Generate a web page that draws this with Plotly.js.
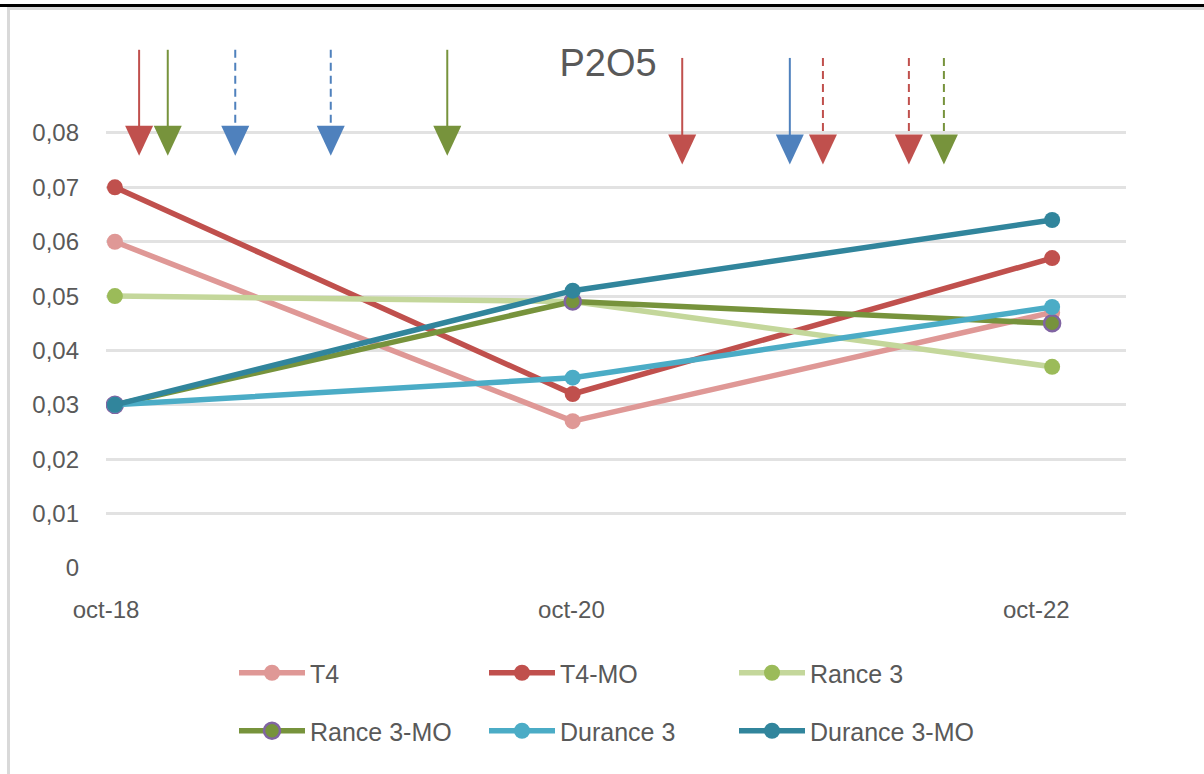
<!DOCTYPE html>
<html>
<head>
<meta charset="utf-8">
<script src="https://cdn.plot.ly/plotly-3.0.1.min.js"></script>
<style>
  html, body { margin: 0; padding: 0; background: #ffffff; }
  #wrap { position: relative; width: 1204px; height: 774px; overflow: hidden; }
  #chart { position: absolute; left: 0; top: 0; width: 1204px; height: 774px; }
  #topbar { position: absolute; left: 0; top: 4px; width: 1204px; height: 3px; background: #000000; pointer-events: none; }
  #frame { position: absolute; left: 7px; top: 7px; width: 1210px; height: 765px;
           border-left: 3px solid #D9D9D9; border-top: 3px solid #D9D9D9; border-bottom: 2px solid #D9D9D9;
           pointer-events: none; }
</style>
</head>
<body>
<div id="wrap">
  <div id="chart"></div>
  <div id="frame"></div>
  <div id="topbar"></div>
</div>
<script>
// Sampling dates and P2O5 contents per plot
const sampleDates = ['2018-10-15', '2020-10-03', '2022-10-26'];
const t4         = [0.060, 0.027, 0.047];
const t4MO       = [0.070, 0.032, 0.057];
const rance3     = [0.050, 0.049, 0.037];
const rance3MO   = [0.030, 0.049, 0.045];
const durance3   = [0.030, 0.035, 0.048];
const durance3MO = [0.030, 0.051, 0.064];
const seriesNames = ['T4', 'T4-MO', 'Rance 3', 'Rance 3-MO', 'Durance 3', 'Durance 3-MO'];

// Axis ticks
const xTickDates  = ['2018-10-01', '2020-10-01', '2022-10-01'];
const xTickLabels = ['oct-18', 'oct-20', 'oct-22'];
const yTickValues = [0, 0.01, 0.02, 0.03, 0.04, 0.05, 0.06, 0.07, 0.08];
const yTickLabels = ['0', '0,01', '0,02', '0,03', '0,04', '0,05', '0,06', '0,07', '0,08'];

// Field interventions marked by arrows (date, plot, kind)
const eventDates = ['2018-11-22', '2019-01-06', '2019-04-22', '2019-09-19', '2020-03-20',
                    '2021-03-24', '2021-09-09', '2021-10-31', '2022-03-15', '2022-05-09'];
const eventPlots = ['T4', 'Rance 3', 'Durance 3', 'Durance 3', 'Rance 3',
                    'T4', 'Durance 3', 'T4', 'T4', 'Rance 3'];
const eventKinds = ['solid', 'solid', 'dashed', 'dashed', 'solid',
                    'solid', 'solid', 'dashed', 'dashed', 'dashed'];

const FONT = 'Liberation Sans, Arial, sans-serif';
const TEXT = '#595959';

const seriesValues = [t4, t4MO, rance3, rance3MO, durance3, durance3MO];
const seriesStyle = [
  { line: '#DF9896', marker: '#DF9896', edge: '#DF9896' },
  { line: '#C0504D', marker: '#C0504D', edge: '#C0504D' },
  { line: '#C4D79B', marker: '#9BBB59', edge: '#9BBB59' },
  { line: '#77933C', marker: '#77933C', edge: '#8064A2' },
  { line: '#4BACC6', marker: '#4BACC6', edge: '#4BACC6' },
  { line: '#31859C', marker: '#31859C', edge: '#31859C' }
];

const traces = seriesValues.map((vals, i) => ({
  type: 'scatter',
  mode: 'lines+markers',
  name: seriesNames[i],
  x: sampleDates,
  y: vals,
  legend: i < 3 ? 'legend' : 'legend2',
  line: { color: seriesStyle[i].line, width: 5.5 },
  marker: { symbol: 'circle', size: 16, color: seriesStyle[i].marker,
            line: { color: seriesStyle[i].edge, width: i === 3 ? 2.5 : 0 } },
  hoverinfo: 'skip'
}));

const plotColors = { 'T4': '#C0504D', 'Rance 3': '#77933C', 'Durance 3': '#4F81BD' };

// Arrow geometry: earlier events sit on a slightly higher row
const shapes = [];
eventDates.forEach((d, i) => {
  const upper = d < '2021-01-01';
  const top = upper ? 0.0953 : 0.0938;
  const tip = upper ? 0.0758 : 0.0742;
  const color = plotColors[eventPlots[i]];
  shapes.push({
    type: 'line', xref: 'x', yref: 'y', layer: 'above',
    x0: d, x1: d, y0: top, y1: tip + 0.0045,
    line: { color: color, width: 2, dash: eventKinds[i] === 'dashed' ? '8px,5px' : 'solid' }
  });
  shapes.push({
    type: 'path', xref: 'x', yref: 'y', layer: 'above',
    xsizemode: 'pixel', ysizemode: 'pixel', xanchor: d, yanchor: tip,
    path: 'M-14,30 L14,30 L0,0 Z',
    fillcolor: color, line: { width: 0 }
  });
});

const legendBase = {
  orientation: 'h',
  xref: 'container', yref: 'container',
  xanchor: 'left', yanchor: 'middle',
  x: 234 / 1204,
  entrywidth: 169, entrywidthmode: 'pixels',
  itemwidth: 66,
  font: { family: FONT, size: 25, color: TEXT },
  bgcolor: 'rgba(0,0,0,0)',
  traceorder: 'normal'
};

const layout = {
  width: 1204, height: 774,
  paper_bgcolor: '#ffffff', plot_bgcolor: '#ffffff',
  margin: { l: 106, r: 78, t: 40, b: 206, pad: 0 },
  title: {
    text: 'P2O5',
    font: { family: FONT, size: 38, color: TEXT },
    xref: 'container', x: 608 / 1204, xanchor: 'center',
    yref: 'container', y: 1 - 63 / 774, yanchor: 'middle'
  },
  xaxis: {
    type: 'date',
    range: ['2018-10-01', '2023-02-19'],
    tickmode: 'array', tickvals: xTickDates, ticktext: xTickLabels,
    showgrid: false, zeroline: false, showline: false, ticks: '',
    tickfont: { family: FONT, size: 24, color: TEXT },
    ticklabelstandoff: 25
  },
  yaxis: {
    range: [0, 0.0971],
    tickmode: 'array', tickvals: yTickValues, ticktext: yTickLabels,
    showgrid: true, gridcolor: '#E2E2E2', gridwidth: 3,
    zeroline: false, showline: false, ticks: '',
    tickfont: { family: FONT, size: 24, color: TEXT },
    ticklabelstandoff: 26
  },
  showlegend: true,
  legend: Object.assign({}, legendBase, { y: 1 - 673 / 774 }),
  legend2: Object.assign({}, legendBase, { y: 1 - 731 / 774 }),
  shapes: shapes,
  hovermode: false
};

Plotly.newPlot('chart', traces, layout, { displayModeBar: false, staticPlot: true });
</script>
</body>
</html>
